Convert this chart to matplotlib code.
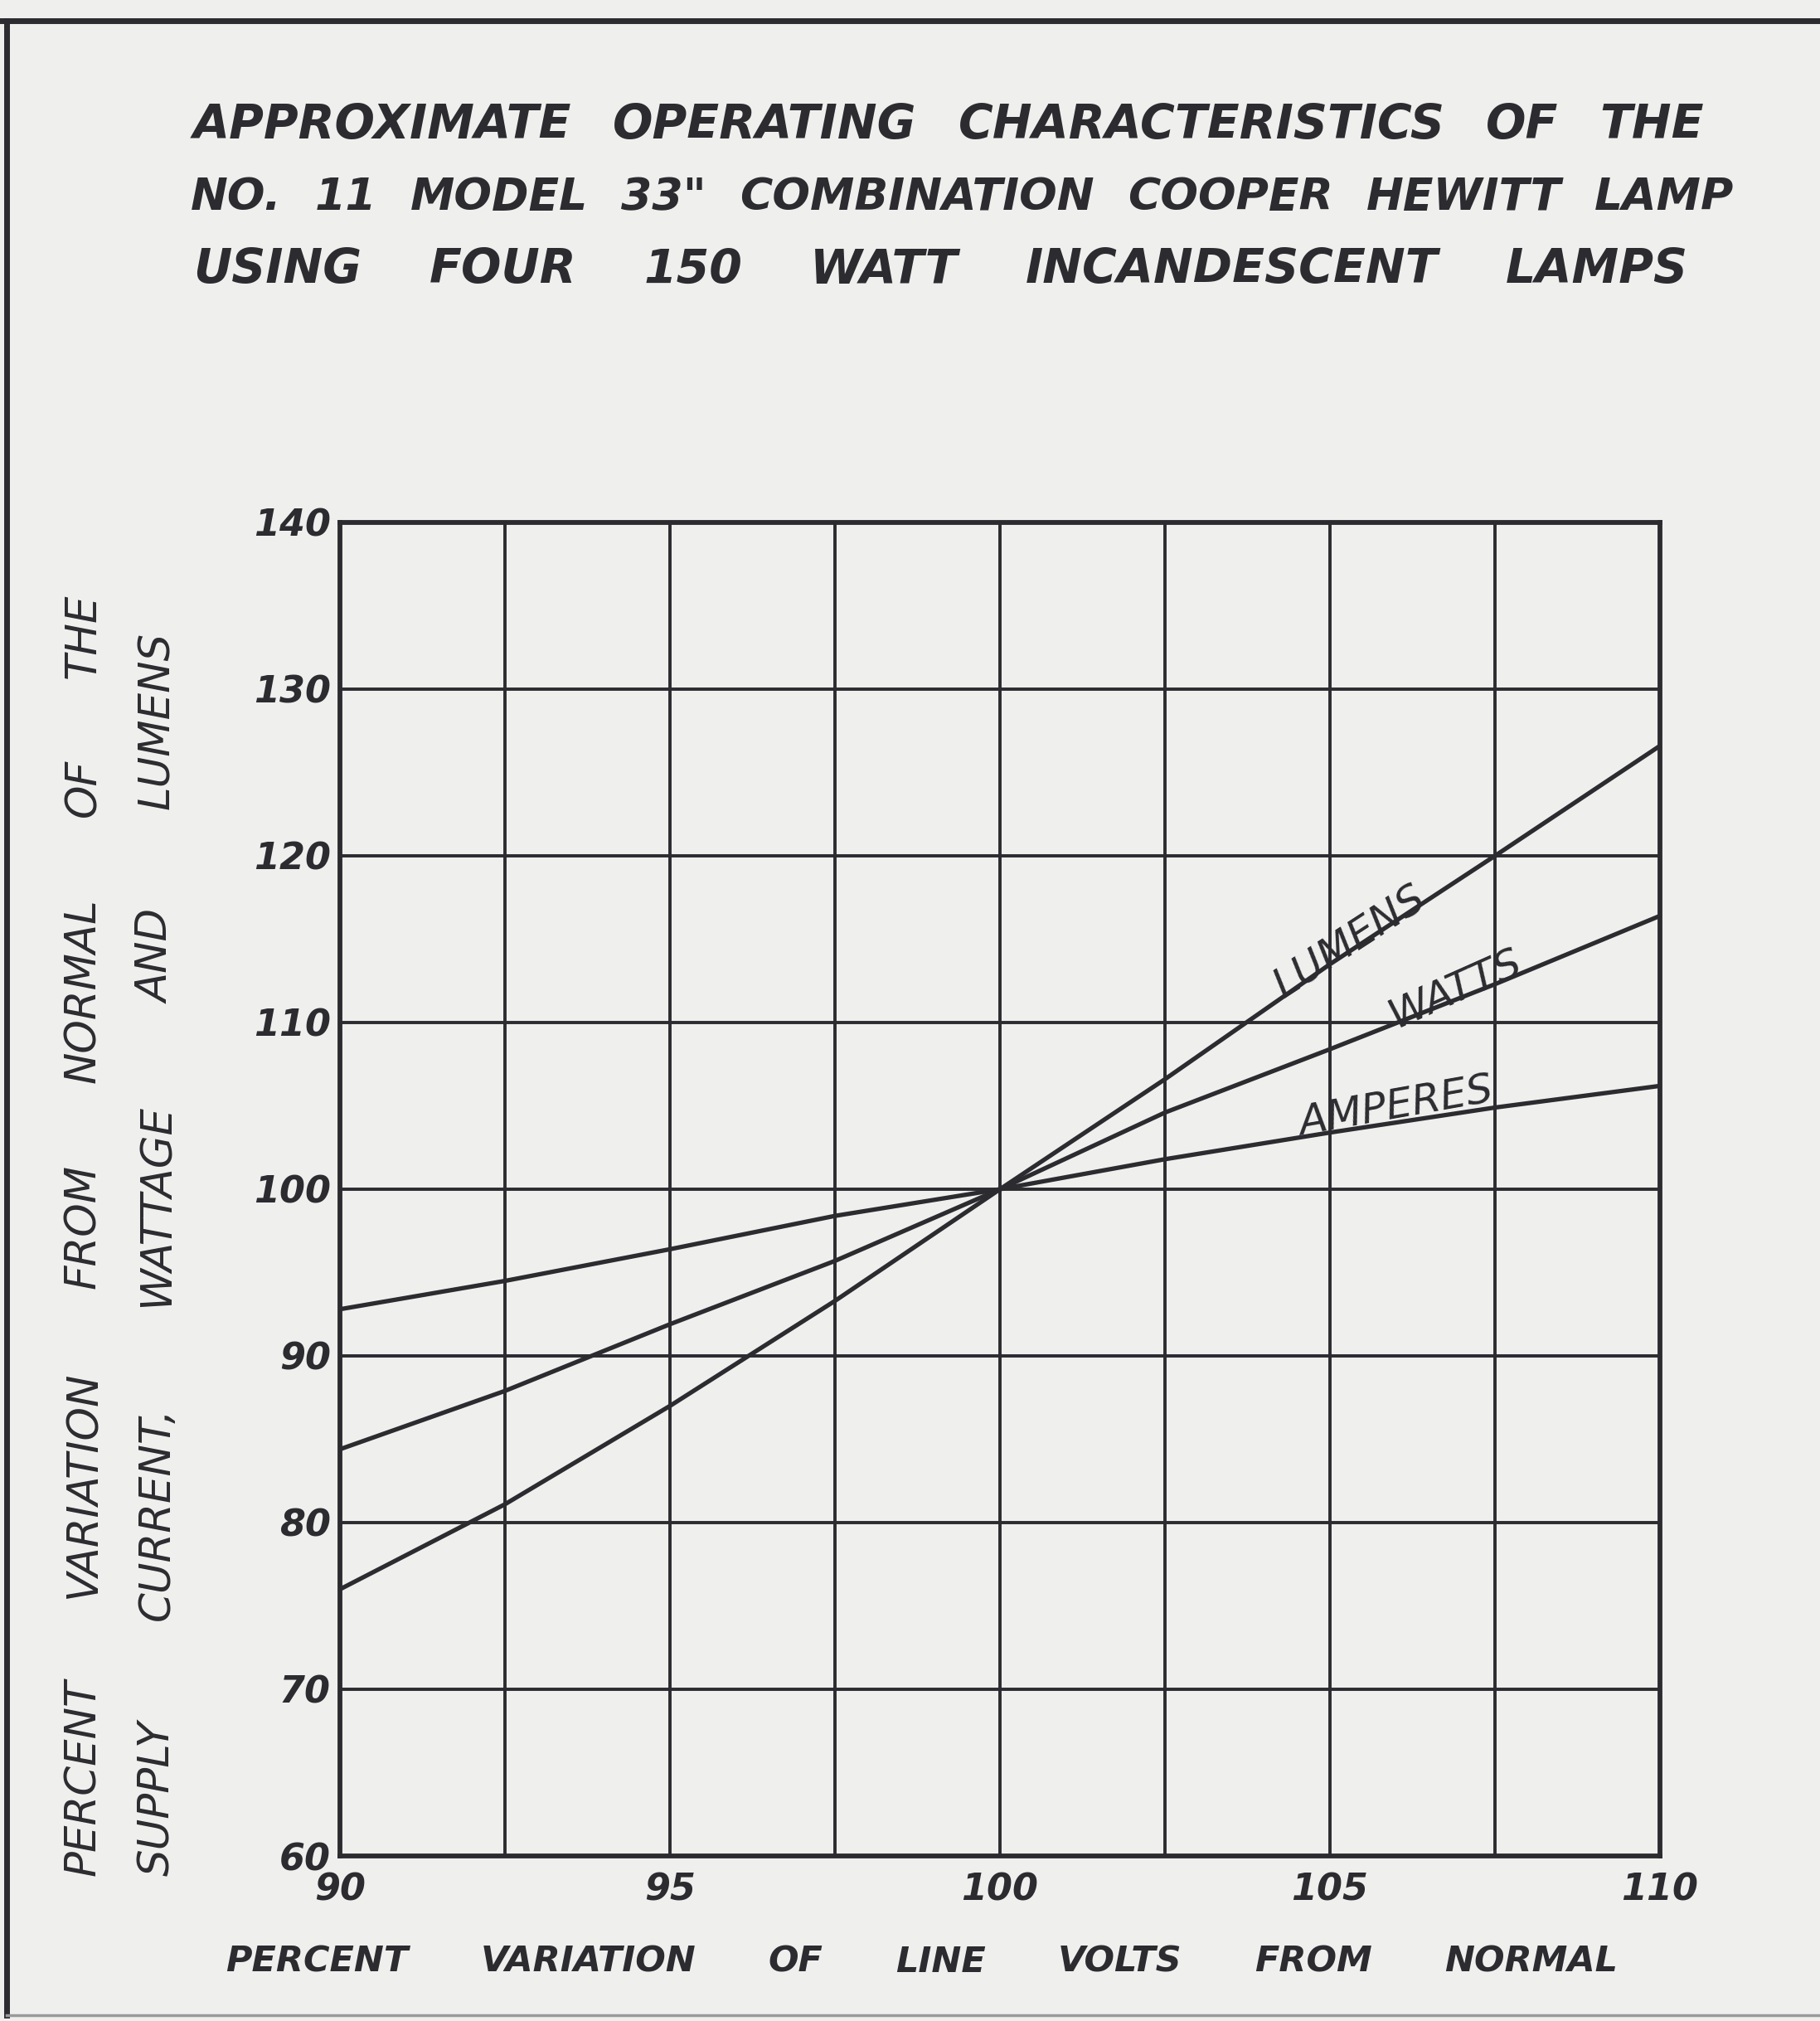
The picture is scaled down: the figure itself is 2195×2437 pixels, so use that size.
import matplotlib
matplotlib.use("Agg")
import matplotlib.pyplot as plt
from matplotlib.lines import Line2D

# ---------------- data ----------------
volts = [90, 92.5, 95, 97.5, 100, 102.5, 105, 107.5, 110]
amperes = [92.8, 94.5, 96.4, 98.4, 100, 101.8, 103.4, 104.9, 106.2]
watts = [84.4, 87.9, 91.9, 95.7, 100, 104.6, 108.4, 112.3, 116.4]
lumens = [76.0, 81.1, 87.0, 93.3, 100, 106.6, 113.5, 120.0, 126.6]

x_ticks = [90, 95, 100, 105, 110]
x_grid = [92.5, 95, 97.5, 100, 102.5, 105, 107.5]
y_ticks = [60, 70, 80, 90, 100, 110, 120, 130, 140]

title_lines = ["APPROXIMATE  OPERATING  CHARACTERISTICS OF THE",
               'NO. 11 MODEL  33" COMBINATION  COOPER HEWITT LAMP',
               "USING  FOUR  150  WATT INCANDESCENT LAMPS"]
ylabel_lines = ["PERCENT VARIATION FROM NORMAL OF THE",
                "SUPPLY CURRENT, WATTAGE AND LUMENS"]
xlabel = "PERCENT VARIATION OF LINE VOLTS FROM NORMAL"

curve_labels = [("LUMENS", 105.3, 114.8, 33),
                ("WATTS", 106.9, 112.0, 24),
                ("AMPERES", 106.0, 104.9, 10)]

# ---------------- figure ----------------
W, H = 2195, 2437
BG = "#efefed"
INK = "#2b2b30"
fig = plt.figure(figsize=(W / 100, H / 100), dpi=100, facecolor=BG)

L, R, T, B = 410, 2002, 630, 2238
ax = fig.add_axes([L / W, 1 - B / H, (R - L) / W, (B - T) / H])
ax.set_facecolor(BG)
ax.set_xlim(90, 110)
ax.set_ylim(60, 140)

for gx in x_grid:
    ax.axvline(gx, color=INK, lw=2.8, zorder=1)
for gy in y_ticks[1:-1]:
    ax.axhline(gy, color=INK, lw=2.8, zorder=1)
for s in ax.spines.values():
    s.set_color(INK)
    s.set_linewidth(4.2)

for series in (amperes, watts, lumens):
    ax.plot(volts, series, color=INK, lw=3.8, solid_capstyle="round", zorder=3)

for txt, xv, yv, rot in curve_labels:
    ax.text(xv, yv, txt, rotation=rot, ha="center", va="center",
            rotation_mode="anchor", fontsize=36, style="italic",
            color=INK, zorder=4)

ax.set_xticks(x_ticks)
ax.set_yticks(y_ticks)
ax.set_xticklabels([str(v) for v in x_ticks], fontsize=32, style="italic",
                   fontweight="bold", color=INK)
ax.set_yticklabels([str(v) for v in y_ticks], fontsize=32, style="italic",
                   fontweight="bold", color=INK)
ax.tick_params(axis="x", length=0, pad=14)
ax.tick_params(axis="y", length=0, pad=8)

renderer = fig.canvas.get_renderer()


def justified(words_line, x0, x1, y, size, gap_px, max_size, weight="bold",
              vertical=False):
    words = words_line.split()
    probe = []
    for w in words:
        t = fig.text(0, 0, w, fontsize=size, style="italic", fontweight=weight)
        bb = t.get_window_extent(renderer)
        probe.append(bb.width)
        t.remove()
    span = abs(x1 - x0)
    ngap = max(len(words) - 1, 1)
    fit = size * (span - ngap * gap_px) / sum(probe)
    fs = min(fit, max_size)
    arts, widths = [], []
    for w in words:
        t = fig.text(0, 0, w, fontsize=fs, style="italic", fontweight=weight,
                     color=INK, rotation=90 if vertical else 0,
                     ha="left", va="center", rotation_mode="anchor")
        bb = t.get_window_extent(renderer)
        widths.append(bb.height if vertical else bb.width)
        arts.append(t)
    gap = (span - sum(widths)) / ngap
    pos = x0
    for t, wd in zip(arts, widths):
        if vertical:
            t.set_position((y / W, 1 - pos / H))
            pos -= wd + gap
        else:
            t.set_position((pos / W, 1 - y / H))
            pos += wd + gap


justified(title_lines[0], 233, 2055, 151, 34, 45, 41)
justified(title_lines[1], 230, 2091, 238, 34, 40, 41)
justified(title_lines[2], 233, 2036, 326, 34, 55, 41)
justified(ylabel_lines[0], 2262, 715, 101, 30, 30, 37, weight="normal",
          vertical=True)
justified(ylabel_lines[1], 2262, 762, 190, 30, 30, 37, weight="normal",
          vertical=True)
justified(xlabel, 272, 1951, 2366, 25, 50, 31)

# outer frame
fig.add_artist(Line2D([0, 1], [1 - 25 / H, 1 - 25 / H], color=INK, lw=5,
                      transform=fig.transFigure))
fig.add_artist(Line2D([8 / W, 8 / W], [1 - 25 / H, 1 - 2430 / H], color=INK,
                      lw=5, transform=fig.transFigure))
fig.add_artist(Line2D([8 / W, 1], [1 - 2430 / H, 1 - 2430 / H], color="#9a9a9c",
                      lw=2.5, transform=fig.transFigure))

fig.savefig("out.png", dpi=100, facecolor=BG)
